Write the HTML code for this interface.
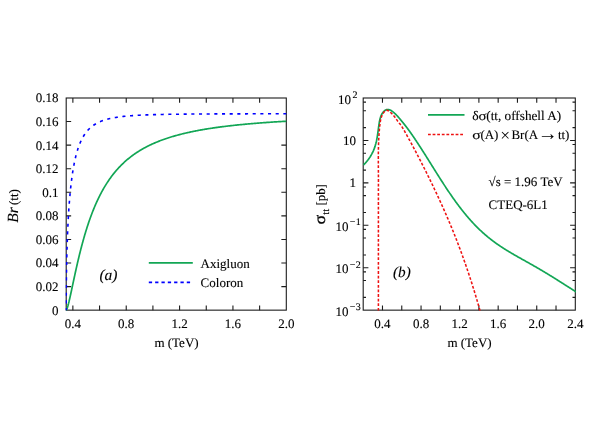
<!DOCTYPE html>
<html><head><meta charset="utf-8"><title>Chart</title>
<style>html,body{margin:0;padding:0;background:#fff;}body{width:616px;height:440px;position:relative;overflow:hidden;font-family:"Liberation Serif",serif;}</style></head>
<body>
<svg width="616" height="440" viewBox="0 0 616 440" style="position:absolute;left:0;top:0;will-change:transform" text-rendering="geometricPrecision">
<rect width="616" height="440" fill="#fff"/>
<defs><clipPath id="cl"><rect x="65.60" y="97.40" width="221.30" height="213.35"/></clipPath><clipPath id="cr"><rect x="362.60" y="97.40" width="213.30" height="213.35"/></clipPath></defs>
<g stroke="#1c1c1c" stroke-width="1.1" fill="none">
<rect x="66.20" y="98.00" width="220.10" height="212.15"/>
<rect x="363.20" y="98.00" width="212.10" height="212.15"/>
<path d="M72.87,310.15 v-4.70 M72.87,98.00 v4.70 M99.55,310.15 v-4.70 M99.55,98.00 v4.70 M126.23,310.15 v-4.70 M126.23,98.00 v4.70 M152.91,310.15 v-4.70 M152.91,98.00 v4.70 M179.58,310.15 v-4.70 M179.58,98.00 v4.70 M206.26,310.15 v-4.70 M206.26,98.00 v4.70 M232.94,310.15 v-4.70 M232.94,98.00 v4.70 M259.62,310.15 v-4.70 M259.62,98.00 v4.70 M66.20,286.58 h4.95 M286.30,286.58 h-4.95 M66.20,263.01 h4.95 M286.30,263.01 h-4.95 M66.20,239.43 h4.95 M286.30,239.43 h-4.95 M66.20,215.86 h4.95 M286.30,215.86 h-4.95 M66.20,192.29 h4.95 M286.30,192.29 h-4.95 M66.20,168.72 h4.95 M286.30,168.72 h-4.95 M66.20,145.14 h4.95 M286.30,145.14 h-4.95 M66.20,121.57 h4.95 M286.30,121.57 h-4.95 M382.48,310.15 v-4.70 M382.48,98.00 v4.70 M401.76,310.15 v-4.70 M401.76,98.00 v4.70 M421.05,310.15 v-4.70 M421.05,98.00 v4.70 M440.33,310.15 v-4.70 M440.33,98.00 v4.70 M459.61,310.15 v-4.70 M459.61,98.00 v4.70 M478.89,310.15 v-4.70 M478.89,98.00 v4.70 M498.17,310.15 v-4.70 M498.17,98.00 v4.70 M517.45,310.15 v-4.70 M517.45,98.00 v4.70 M536.74,310.15 v-4.70 M536.74,98.00 v4.70 M556.02,310.15 v-4.70 M556.02,98.00 v4.70 M363.20,297.38 h2.80 M575.30,297.38 h-2.80 M363.20,280.49 h2.80 M575.30,280.49 h-2.80 M363.20,271.83 h2.80 M575.30,271.83 h-2.80 M363.20,267.72 h5.20 M575.30,267.72 h-5.20 M363.20,254.95 h2.80 M575.30,254.95 h-2.80 M363.20,238.06 h2.80 M575.30,238.06 h-2.80 M363.20,229.40 h2.80 M575.30,229.40 h-2.80 M363.20,225.29 h5.20 M575.30,225.29 h-5.20 M363.20,212.52 h2.80 M575.30,212.52 h-2.80 M363.20,195.63 h2.80 M575.30,195.63 h-2.80 M363.20,186.97 h2.80 M575.30,186.97 h-2.80 M363.20,182.86 h5.20 M575.30,182.86 h-5.20 M363.20,170.09 h2.80 M575.30,170.09 h-2.80 M363.20,153.20 h2.80 M575.30,153.20 h-2.80 M363.20,144.54 h2.80 M575.30,144.54 h-2.80 M363.20,140.43 h5.20 M575.30,140.43 h-5.20 M363.20,127.66 h2.80 M575.30,127.66 h-2.80 M363.20,110.77 h2.80 M575.30,110.77 h-2.80 M363.20,102.11 h2.80 M575.30,102.11 h-2.80"/>
</g>
<g clip-path="url(#cl)" fill="none" stroke-linejoin="round">
<path d="M66.20,310.15 L66.20,310.15 L66.21,310.15 L66.21,310.15 L66.22,310.14 L66.23,310.14 L66.25,310.13 L66.27,310.11 L66.29,310.10 L66.31,310.07 L66.34,310.04 L66.37,310.01 L66.40,309.97 L66.43,309.92 L66.47,309.86 L66.51,309.80 L66.55,309.72 L66.60,309.64 L66.65,309.54 L66.70,309.44 L66.75,309.32 L66.81,309.19 L66.87,309.05 L66.93,308.90 L66.99,308.73 L67.06,308.55 L67.13,308.36 L67.20,308.15 L67.28,307.93 L67.36,307.69 L67.44,307.44 L67.52,307.17 L67.61,306.89 L67.70,306.59 L67.79,306.28 L67.89,305.94 L67.98,305.59 L68.08,305.23 L68.19,304.84 L68.29,304.44 L68.40,304.03 L68.51,303.59 L68.63,303.14 L68.74,302.67 L68.86,302.18 L68.99,301.68 L69.11,301.15 L69.24,300.61 L69.37,300.06 L69.50,299.48 L69.64,298.89 L69.78,298.28 L69.92,297.65 L70.06,297.01 L70.21,296.35 L70.36,295.67 L70.51,294.98 L70.67,294.27 L70.83,293.54 L70.99,292.80 L71.15,292.04 L71.32,291.27 L71.49,290.48 L71.66,289.67 L71.83,288.86 L72.01,288.03 L72.19,287.18 L72.38,286.32 L72.56,285.45 L72.75,284.56 L72.94,283.66 L73.13,282.75 L73.33,281.83 L73.53,280.90 L73.73,279.95 L73.94,279.00 L74.15,278.03 L74.36,277.05 L74.57,276.07 L74.79,275.07 L75.00,274.07 L75.23,273.06 L75.45,272.04 L75.68,271.01 L75.91,269.97 L76.14,268.93 L76.37,267.88 L76.61,266.82 L76.85,265.76 L77.10,264.69 L77.34,263.62 L77.59,262.55 L77.84,261.47 L78.10,260.38 L78.36,259.29 L78.62,258.20 L78.88,257.10 L79.14,256.01 L79.41,254.91 L79.68,253.81 L79.96,252.70 L80.23,251.60 L80.51,250.49 L80.79,249.39 L81.08,248.28 L81.37,247.18 L81.66,246.07 L81.95,244.97 L82.25,243.86 L82.54,242.76 L82.85,241.66 L83.15,240.56 L83.46,239.46 L83.77,238.36 L84.08,237.27 L84.39,236.18 L84.71,235.09 L85.03,234.01 L85.35,232.93 L85.68,231.85 L86.01,230.77 L86.34,229.70 L86.67,228.64 L87.01,227.58 L87.35,226.52 L87.69,225.47 L88.04,224.42 L88.39,223.38 L88.74,222.34 L89.09,221.31 L89.45,220.28 L89.81,219.26 L90.17,218.24 L90.53,217.23 L90.90,216.23 L91.27,215.23 L91.64,214.24 L92.02,213.25 L92.40,212.28 L92.78,211.30 L93.16,210.34 L93.55,209.38 L93.94,208.42 L94.33,207.48 L94.72,206.54 L95.12,205.61 L95.52,204.68 L95.93,203.76 L96.33,202.85 L96.74,201.94 L97.15,201.05 L97.57,200.16 L97.98,199.27 L98.40,198.40 L98.82,197.53 L99.25,196.66 L99.68,195.81 L100.11,194.96 L100.54,194.12 L100.98,193.29 L101.42,192.46 L101.86,191.64 L102.30,190.83 L102.75,190.03 L103.20,189.23 L103.65,188.44 L104.11,187.66 L104.56,186.89 L105.03,186.12 L105.49,185.36 L105.96,184.60 L106.42,183.86 L106.90,183.12 L107.37,182.39 L107.85,181.66 L108.33,180.94 L108.81,180.23 L109.30,179.53 L109.79,178.83 L110.28,178.14 L110.77,177.46 L111.27,176.78 L111.77,176.11 L112.27,175.45 L112.77,174.79 L113.28,174.14 L113.79,173.50 L114.30,172.87 L114.82,172.24 L115.34,171.61 L115.86,171.00 L116.38,170.39 L116.91,169.79 L117.44,169.19 L117.97,168.60 L118.51,168.01 L119.05,167.43 L119.59,166.86 L120.13,166.30 L120.68,165.74 L121.23,165.18 L121.78,164.64 L122.33,164.09 L122.89,163.56 L123.45,163.03 L124.01,162.50 L124.58,161.98 L125.14,161.47 L125.72,160.96 L126.29,160.46 L126.87,159.97 L127.44,159.48 L128.03,158.99 L128.61,158.51 L129.20,158.04 L129.79,157.57 L130.38,157.10 L130.98,156.64 L131.58,156.19 L132.18,155.74 L132.78,155.30 L133.39,154.86 L134.00,154.42 L134.61,153.99 L135.22,153.57 L135.84,153.15 L136.46,152.74 L137.08,152.33 L137.71,151.92 L138.34,151.52 L138.97,151.12 L139.60,150.73 L140.24,150.34 L140.88,149.96 L141.52,149.58 L142.17,149.21 L142.82,148.84 L143.47,148.47 L144.12,148.11 L144.78,147.75 L145.44,147.40 L146.10,147.05 L146.76,146.70 L147.43,146.36 L148.10,146.02 L148.77,145.69 L149.45,145.36 L150.13,145.03 L150.81,144.71 L151.49,144.39 L152.18,144.07 L152.87,143.76 L153.56,143.45 L154.25,143.15 L154.95,142.85 L155.65,142.55 L156.35,142.25 L157.06,141.96 L157.77,141.68 L158.48,141.39 L159.19,141.11 L159.91,140.83 L160.63,140.56 L161.35,140.28 L162.08,140.02 L162.80,139.75 L163.53,139.49 L164.27,139.23 L165.00,138.97 L165.74,138.72 L166.48,138.47 L167.23,138.22 L167.97,137.97 L168.72,137.73 L169.48,137.49 L170.23,137.25 L170.99,137.02 L171.75,136.79 L172.51,136.56 L173.28,136.33 L174.05,136.11 L174.82,135.88 L175.60,135.67 L176.37,135.45 L177.15,135.23 L177.94,135.02 L178.72,134.81 L179.51,134.61 L180.30,134.40 L181.09,134.20 L181.89,134.00 L182.69,133.80 L183.49,133.61 L184.30,133.41 L185.10,133.22 L185.91,133.03 L186.73,132.84 L187.54,132.66 L188.36,132.48 L189.18,132.30 L190.01,132.12 L190.83,131.94 L191.66,131.76 L192.49,131.59 L193.33,131.42 L194.17,131.25 L195.01,131.08 L195.85,130.92 L196.70,130.75 L197.55,130.59 L198.40,130.43 L199.25,130.27 L200.11,130.12 L200.97,129.96 L201.83,129.81 L202.70,129.66 L203.56,129.51 L204.44,129.36 L205.31,129.21 L206.18,129.07 L207.06,128.92 L207.95,128.78 L208.83,128.64 L209.72,128.50 L210.61,128.37 L211.50,128.23 L212.40,128.10 L213.29,127.96 L214.20,127.83 L215.10,127.70 L216.01,127.57 L216.91,127.45 L217.83,127.32 L218.74,127.19 L219.66,127.07 L220.58,126.95 L221.50,126.83 L222.43,126.71 L223.36,126.59 L224.29,126.47 L225.22,126.36 L226.16,126.25 L227.10,126.13 L228.04,126.02 L228.99,125.91 L229.93,125.80 L230.88,125.69 L231.84,125.58 L232.79,125.48 L233.75,125.37 L234.71,125.27 L235.68,125.17 L236.65,125.06 L237.62,124.96 L238.59,124.86 L239.56,124.77 L240.54,124.67 L241.52,124.57 L242.51,124.48 L243.49,124.38 L244.48,124.29 L245.47,124.20 L246.47,124.10 L247.46,124.01 L248.46,123.92 L249.47,123.83 L250.47,123.75 L251.48,123.66 L252.49,123.57 L253.51,123.49 L254.52,123.40 L255.54,123.32 L256.56,123.24 L257.59,123.16 L258.62,123.08 L259.65,123.00 L260.68,122.92 L261.72,122.84 L262.75,122.76 L263.80,122.68 L264.84,122.61 L265.89,122.53 L266.94,122.46 L267.99,122.38 L269.04,122.31 L270.10,122.24 L271.16,122.17 L272.23,122.09 L273.29,122.02 L274.36,121.95 L275.43,121.89 L276.51,121.82 L277.58,121.75 L278.66,121.68 L279.75,121.62 L280.83,121.55 L281.92,121.49 L283.01,121.42 L284.10,121.36 L285.20,121.30 L286.30,121.23" stroke="#12a655" stroke-width="1.7"/>
<path d="M66.20,310.15 L66.20,307.44 L66.21,304.75 L66.21,302.07 L66.22,299.40 L66.23,296.75 L66.25,294.11 L66.27,291.49 L66.29,288.88 L66.31,286.30 L66.34,283.73 L66.37,281.17 L66.40,278.64 L66.43,276.12 L66.47,273.63 L66.51,271.15 L66.55,268.69 L66.60,266.25 L66.65,263.84 L66.70,261.44 L66.75,259.07 L66.81,256.72 L66.87,254.39 L66.93,252.08 L66.99,249.79 L67.06,247.53 L67.13,245.29 L67.20,243.07 L67.28,240.88 L67.36,238.71 L67.44,236.56 L67.52,234.44 L67.61,232.34 L67.70,230.26 L67.79,228.21 L67.89,226.19 L67.98,224.19 L68.08,222.21 L68.19,220.26 L68.29,218.33 L68.40,216.43 L68.51,214.55 L68.63,212.69 L68.74,210.87 L68.86,209.06 L68.99,207.28 L69.11,205.53 L69.24,203.80 L69.37,202.09 L69.50,200.41 L69.64,198.75 L69.78,197.12 L69.92,195.51 L70.06,193.93 L70.21,192.37 L70.36,190.83 L70.51,189.32 L70.67,187.83 L70.83,186.36 L70.99,184.92 L71.15,183.50 L71.32,182.10 L71.49,180.73 L71.66,179.38 L71.83,178.05 L72.01,176.75 L72.19,175.46 L72.38,174.20 L72.56,172.96 L72.75,171.74 L72.94,170.54 L73.13,169.36 L73.33,168.21 L73.53,167.07 L73.73,165.95 L73.94,164.86 L74.15,163.78 L74.36,162.73 L74.57,161.69 L74.79,160.67 L75.00,159.67 L75.23,158.69 L75.45,157.73 L75.68,156.79 L75.91,155.86 L76.14,154.95 L76.37,154.06 L76.61,153.19 L76.85,152.34 L77.10,151.50 L77.34,150.67 L77.59,149.87 L77.84,149.07 L78.10,148.30 L78.36,147.54 L78.62,146.80 L78.88,146.07 L79.14,145.35 L79.41,144.65 L79.68,143.97 L79.96,143.29 L80.23,142.64 L80.51,141.99 L80.79,141.36 L81.08,140.74 L81.37,140.14 L81.66,139.55 L81.95,138.97 L82.25,138.40 L82.54,137.84 L82.85,137.30 L83.15,136.77 L83.46,136.25 L83.77,135.74 L84.08,135.24 L84.39,134.75 L84.71,134.28 L85.03,133.81 L85.35,133.35 L85.68,132.91 L86.01,132.47 L86.34,132.04 L86.67,131.62 L87.01,131.21 L87.35,130.82 L87.69,130.42 L88.04,130.04 L88.39,129.67 L88.74,129.30 L89.09,128.95 L89.45,128.60 L89.81,128.26 L90.17,127.92 L90.53,127.60 L90.90,127.28 L91.27,126.97 L91.64,126.66 L92.02,126.36 L92.40,126.07 L92.78,125.79 L93.16,125.51 L93.55,125.24 L93.94,124.97 L94.33,124.71 L94.72,124.46 L95.12,124.21 L95.52,123.97 L95.93,123.74 L96.33,123.50 L96.74,123.28 L97.15,123.06 L97.57,122.84 L97.98,122.63 L98.40,122.43 L98.82,122.23 L99.25,122.03 L99.68,121.84 L100.11,121.65 L100.54,121.47 L100.98,121.29 L101.42,121.12 L101.86,120.95 L102.30,120.78 L102.75,120.62 L103.20,120.46 L103.65,120.31 L104.11,120.16 L104.56,120.01 L105.03,119.86 L105.49,119.72 L105.96,119.59 L106.42,119.45 L106.90,119.32 L107.37,119.19 L107.85,119.07 L108.33,118.94 L108.81,118.82 L109.30,118.71 L109.79,118.59 L110.28,118.48 L110.77,118.37 L111.27,118.27 L111.77,118.17 L112.27,118.06 L112.77,117.97 L113.28,117.87 L113.79,117.77 L114.30,117.68 L114.82,117.59 L115.34,117.51 L115.86,117.42 L116.38,117.34 L116.91,117.25 L117.44,117.17 L117.97,117.10 L118.51,117.02 L119.05,116.95 L119.59,116.87 L120.13,116.80 L120.68,116.73 L121.23,116.67 L121.78,116.60 L122.33,116.54 L122.89,116.47 L123.45,116.41 L124.01,116.35 L124.58,116.29 L125.14,116.24 L125.72,116.18 L126.29,116.13 L126.87,116.07 L127.44,116.02 L128.03,115.97 L128.61,115.92 L129.20,115.87 L129.79,115.82 L130.38,115.78 L130.98,115.73 L131.58,115.69 L132.18,115.64 L132.78,115.60 L133.39,115.56 L134.00,115.52 L134.61,115.48 L135.22,115.44 L135.84,115.40 L136.46,115.37 L137.08,115.33 L137.71,115.30 L138.34,115.26 L138.97,115.23 L139.60,115.20 L140.24,115.16 L140.88,115.13 L141.52,115.10 L142.17,115.07 L142.82,115.04 L143.47,115.02 L144.12,114.99 L144.78,114.96 L145.44,114.93 L146.10,114.91 L146.76,114.88 L147.43,114.86 L148.10,114.83 L148.77,114.81 L149.45,114.79 L150.13,114.76 L150.81,114.74 L151.49,114.72 L152.18,114.70 L152.87,114.68 L153.56,114.66 L154.25,114.64 L154.95,114.62 L155.65,114.60 L156.35,114.58 L157.06,114.56 L157.77,114.55 L158.48,114.53 L159.19,114.51 L159.91,114.50 L160.63,114.48 L161.35,114.46 L162.08,114.45 L162.80,114.43 L163.53,114.42 L164.27,114.40 L165.00,114.39 L165.74,114.38 L166.48,114.36 L167.23,114.35 L167.97,114.34 L168.72,114.32 L169.48,114.31 L170.23,114.30 L170.99,114.29 L171.75,114.28 L172.51,114.26 L173.28,114.25 L174.05,114.24 L174.82,114.23 L175.60,114.22 L176.37,114.21 L177.15,114.20 L177.94,114.19 L178.72,114.18 L179.51,114.17 L180.30,114.16 L181.09,114.16 L181.89,114.15 L182.69,114.14 L183.49,114.13 L184.30,114.12 L185.10,114.11 L185.91,114.11 L186.73,114.10 L187.54,114.09 L188.36,114.08 L189.18,114.08 L190.01,114.07 L190.83,114.06 L191.66,114.06 L192.49,114.05 L193.33,114.04 L194.17,114.04 L195.01,114.03 L195.85,114.02 L196.70,114.02 L197.55,114.01 L198.40,114.01 L199.25,114.00 L200.11,114.00 L200.97,113.99 L201.83,113.98 L202.70,113.98 L203.56,113.97 L204.44,113.97 L205.31,113.96 L206.18,113.96 L207.06,113.96 L207.95,113.95 L208.83,113.95 L209.72,113.94 L210.61,113.94 L211.50,113.93 L212.40,113.93 L213.29,113.93 L214.20,113.92 L215.10,113.92 L216.01,113.91 L216.91,113.91 L217.83,113.91 L218.74,113.90 L219.66,113.90 L220.58,113.90 L221.50,113.89 L222.43,113.89 L223.36,113.89 L224.29,113.88 L225.22,113.88 L226.16,113.88 L227.10,113.87 L228.04,113.87 L228.99,113.87 L229.93,113.87 L230.88,113.86 L231.84,113.86 L232.79,113.86 L233.75,113.86 L234.71,113.85 L235.68,113.85 L236.65,113.85 L237.62,113.85 L238.59,113.84 L239.56,113.84 L240.54,113.84 L241.52,113.84 L242.51,113.83 L243.49,113.83 L244.48,113.83 L245.47,113.83 L246.47,113.83 L247.46,113.82 L248.46,113.82 L249.47,113.82 L250.47,113.82 L251.48,113.82 L252.49,113.82 L253.51,113.81 L254.52,113.81 L255.54,113.81 L256.56,113.81 L257.59,113.81 L258.62,113.81 L259.65,113.80 L260.68,113.80 L261.72,113.80 L262.75,113.80 L263.80,113.80 L264.84,113.80 L265.89,113.79 L266.94,113.79 L267.99,113.79 L269.04,113.79 L270.10,113.79 L271.16,113.79 L272.23,113.79 L273.29,113.79 L274.36,113.78 L275.43,113.78 L276.51,113.78 L277.58,113.78 L278.66,113.78 L279.75,113.78 L280.83,113.78 L281.92,113.78 L283.01,113.78 L284.10,113.77 L285.20,113.77 L286.30,113.77" stroke="#0000ff" stroke-width="1.6" stroke-dasharray="3.1,4.568" stroke-dashoffset="0.95"/>
</g>
<g clip-path="url(#cr)" fill="none" stroke-linejoin="round">
<path d="M363.43,164.98 L363.84,164.58 L364.24,164.18 L364.64,163.78 L365.03,163.38 L365.41,162.97 L365.78,162.56 L366.15,162.15 L366.51,161.73 L366.87,161.31 L367.22,160.88 L367.56,160.46 L367.90,160.03 L368.23,159.59 L368.55,159.16 L368.87,158.72 L369.18,158.28 L369.48,157.83 L369.78,157.38 L370.08,156.93 L370.36,156.48 L370.64,156.02 L370.92,155.57 L371.19,155.10 L371.45,154.64 L371.71,154.17 L371.96,153.71 L372.20,153.23 L372.44,152.76 L372.67,152.28 L372.90,151.80 L373.12,151.32 L373.34,150.84 L373.55,150.35 L373.75,149.87 L373.95,149.37 L374.14,148.88 L374.33,148.39 L374.51,147.89 L374.69,147.39 L374.86,146.89 L375.03,146.39 L375.19,145.88 L375.34,145.37 L375.49,144.87 L375.64,144.36 L375.77,143.84 L375.91,143.33 L376.04,142.81 L376.16,142.29 L376.29,141.77 L376.40,141.25 L376.52,140.73 L376.62,140.21 L376.73,139.68 L376.83,139.15 L376.93,138.62 L377.03,138.09 L377.12,137.56 L377.21,137.03 L377.30,136.49 L377.39,135.96 L377.47,135.42 L377.55,134.88 L377.63,134.34 L377.71,133.80 L377.79,133.26 L377.86,132.72 L377.94,132.17 L378.01,131.63 L378.09,131.08 L378.16,130.53 L378.23,129.99 L378.30,129.44 L378.38,128.89 L378.45,128.34 L378.52,127.79 L378.60,127.23 L378.67,126.68 L378.75,126.13 L378.83,125.57 L378.90,125.02 L378.98,124.46 L379.07,123.91 L379.15,123.35 L379.24,122.80 L379.33,122.25 L379.43,121.70 L379.53,121.15 L379.64,120.60 L379.76,120.06 L379.88,119.52 L380.01,118.99 L380.15,118.46 L380.30,117.93 L380.46,117.42 L380.63,116.91 L380.82,116.40 L381.01,115.90 L381.22,115.41 L381.44,114.93 L381.68,114.46 L381.93,114.00 L382.20,113.55 L382.48,113.10 L382.78,112.67 L383.10,112.25 L383.43,111.85 L383.78,111.47 L384.14,111.12 L384.52,110.79 L384.90,110.49 L385.30,110.22 L385.71,109.99 L386.13,109.80 L386.56,109.65 L386.99,109.54 L387.43,109.49 L387.88,109.48 L388.34,109.53 L388.79,109.61 L389.25,109.74 L389.71,109.91 L390.18,110.11 L390.64,110.34 L391.10,110.60 L391.56,110.88 L392.02,111.19 L392.47,111.51 L392.92,111.85 L393.36,112.21 L393.79,112.57 L394.22,112.94 L394.63,113.31 L395.04,113.69 L395.44,114.07 L395.84,114.46 L396.22,114.85 L396.60,115.24 L396.98,115.64 L397.35,116.03 L397.72,116.43 L398.08,116.84 L398.44,117.24 L398.79,117.65 L399.15,118.05 L399.50,118.46 L399.85,118.87 L400.20,119.28 L400.55,119.69 L400.89,120.10 L401.24,120.52 L401.58,120.93 L401.92,121.35 L402.26,121.76 L402.60,122.18 L402.94,122.59 L403.28,123.01 L403.61,123.43 L403.95,123.85 L404.28,124.27 L404.61,124.69 L404.94,125.12 L405.27,125.54 L405.60,125.96 L405.93,126.39 L406.25,126.81 L406.58,127.24 L406.90,127.67 L407.22,128.10 L407.54,128.53 L407.86,128.95 L408.18,129.38 L408.50,129.82 L408.81,130.25 L409.13,130.68 L409.45,131.11 L409.76,131.55 L410.07,131.98 L410.38,132.42 L410.69,132.85 L411.00,133.29 L411.31,133.72 L411.62,134.16 L411.93,134.60 L412.23,135.04 L412.54,135.48 L412.85,135.93 L413.15,136.37 L413.45,136.81 L413.75,137.25 L414.06,137.70 L414.36,138.14 L414.66,138.59 L414.96,139.03 L415.25,139.48 L415.55,139.92 L415.85,140.37 L416.15,140.82 L416.44,141.26 L416.74,141.71 L417.03,142.16 L417.33,142.60 L417.62,143.05 L417.91,143.50 L418.21,143.95 L418.50,144.39 L418.79,144.84 L419.08,145.29 L419.37,145.74 L419.66,146.18 L419.95,146.63 L420.24,147.08 L420.53,147.53 L420.82,147.98 L421.11,148.42 L421.39,148.87 L421.68,149.32 L421.97,149.77 L422.25,150.22 L422.54,150.67 L422.83,151.11 L423.11,151.56 L423.40,152.01 L423.68,152.46 L423.97,152.91 L424.25,153.35 L424.54,153.80 L424.82,154.25 L425.00,154.53 L425.50,155.32 L426.00,156.11 L426.50,156.91 L427.00,157.70 L427.50,158.50 L428.00,159.29 L428.50,160.09 L429.00,160.89 L429.50,161.69 L430.00,162.49 L430.50,163.29 L431.00,164.09 L431.50,164.89 L432.00,165.69 L432.50,166.49 L433.00,167.29 L433.50,168.09 L434.00,168.89 L434.50,169.69 L435.00,170.49 L435.50,171.28 L436.00,172.08 L436.50,172.87 L437.00,173.67 L437.50,174.46 L438.00,175.25 L438.50,176.04 L439.00,176.83 L439.50,177.62 L440.00,178.40 L440.50,179.18 L441.00,179.97 L441.50,180.75 L442.00,181.52 L442.50,182.30 L443.00,183.07 L443.50,183.84 L444.00,184.61 L444.50,185.38 L445.00,186.14 L445.50,186.90 L446.00,187.66 L446.50,188.41 L447.00,189.16 L447.50,189.91 L448.00,190.66 L448.50,191.40 L449.00,192.14 L449.50,192.88 L450.00,193.61 L450.50,194.34 L451.00,195.07 L451.50,195.79 L452.00,196.51 L452.50,197.22 L453.00,197.94 L453.50,198.64 L454.00,199.35 L454.50,200.05 L455.00,200.75 L455.50,201.44 L456.00,202.13 L456.50,202.81 L457.00,203.49 L457.50,204.17 L458.00,204.84 L458.50,205.51 L459.00,206.18 L459.50,206.83 L460.00,207.49 L460.50,208.14 L461.00,208.79 L461.50,209.43 L462.00,210.07 L462.50,210.70 L463.00,211.33 L463.50,211.96 L464.00,212.58 L464.50,213.19 L465.00,213.80 L465.50,214.41 L466.00,215.01 L466.50,215.61 L467.00,216.20 L467.50,216.79 L468.00,217.38 L468.50,217.96 L469.00,218.53 L469.50,219.10 L470.00,219.67 L470.50,220.23 L471.00,220.79 L471.50,221.34 L472.00,221.89 L472.50,222.43 L473.00,222.97 L473.50,223.50 L474.00,224.03 L474.50,224.55 L475.00,225.07 L475.50,225.59 L476.00,226.10 L476.50,226.61 L477.00,227.11 L477.50,227.61 L478.00,228.10 L478.50,228.59 L479.00,229.08 L479.50,229.56 L480.00,230.03 L480.50,230.51 L481.00,230.97 L481.50,231.44 L482.00,231.90 L482.50,232.35 L483.00,232.80 L483.50,233.25 L484.00,233.69 L484.50,234.13 L485.00,234.57 L485.50,235.00 L486.00,235.43 L486.50,235.85 L487.00,236.27 L487.50,236.68 L488.00,237.10 L488.50,237.50 L489.00,237.91 L489.50,238.31 L490.00,238.71 L490.50,239.10 L491.00,239.49 L491.50,239.88 L492.00,240.26 L492.50,240.65 L493.00,241.02 L493.50,241.40 L494.00,241.77 L494.50,242.14 L495.00,242.50 L495.50,242.86 L496.00,243.22 L496.50,243.58 L497.00,243.93 L497.50,244.28 L498.00,244.63 L498.50,244.97 L499.00,245.32 L499.50,245.66 L500.00,245.99 L500.50,246.33 L501.00,246.66 L501.50,246.99 L502.00,247.32 L502.50,247.64 L503.00,247.97 L503.50,248.29 L504.00,248.61 L504.50,248.92 L505.00,249.24 L505.50,249.55 L506.00,249.86 L506.50,250.17 L507.00,250.48 L507.50,250.79 L508.00,251.09 L508.50,251.39 L509.00,251.70 L509.50,252.00 L510.00,252.29 L510.50,252.59 L511.00,252.89 L511.50,253.18 L512.00,253.48 L512.50,253.77 L513.00,254.06 L513.50,254.35 L514.00,254.64 L514.50,254.93 L515.00,255.22 L515.50,255.50 L516.00,255.79 L516.50,256.07 L517.00,256.36 L517.50,256.64 L518.00,256.92 L518.50,257.21 L519.00,257.49 L519.50,257.77 L520.00,258.05 L520.50,258.33 L521.00,258.61 L521.50,258.89 L522.00,259.17 L522.50,259.45 L523.00,259.73 L523.50,260.01 L524.00,260.29 L524.50,260.57 L525.00,260.85 L525.50,261.13 L526.00,261.41 L526.50,261.69 L527.00,261.97 L527.50,262.25 L528.00,262.53 L528.50,262.81 L529.00,263.10 L529.50,263.38 L530.00,263.66 L530.50,263.94 L531.00,264.22 L531.50,264.51 L532.00,264.79 L532.50,265.07 L533.00,265.36 L533.50,265.64 L534.00,265.93 L534.50,266.21 L535.00,266.50 L535.50,266.79 L536.00,267.08 L536.50,267.36 L537.00,267.65 L537.50,267.94 L538.00,268.23 L538.50,268.52 L539.00,268.82 L539.50,269.11 L540.00,269.40 L540.50,269.69 L541.00,269.99 L541.50,270.28 L542.00,270.58 L542.50,270.88 L543.00,271.17 L543.50,271.47 L544.00,271.77 L544.50,272.07 L545.00,272.37 L545.50,272.67 L546.00,272.97 L546.50,273.28 L547.00,273.58 L547.50,273.88 L548.00,274.19 L548.50,274.49 L549.00,274.80 L549.50,275.11 L550.00,275.41 L550.50,275.72 L551.00,276.03 L551.50,276.34 L552.00,276.65 L552.50,276.96 L553.00,277.27 L553.50,277.58 L554.00,277.90 L554.50,278.21 L555.00,278.52 L555.50,278.84 L556.00,279.15 L556.50,279.46 L557.00,279.78 L557.50,280.09 L558.00,280.41 L558.50,280.73 L559.00,281.04 L559.50,281.36 L560.00,281.68 L560.50,281.99 L561.00,282.31 L561.50,282.63 L562.00,282.95 L562.50,283.26 L563.00,283.58 L563.50,283.90 L564.00,284.22 L564.50,284.53 L565.00,284.85 L565.50,285.17 L566.00,285.49 L566.50,285.81 L567.00,286.12 L567.50,286.44 L568.00,286.76 L568.50,287.07 L569.00,287.39 L569.50,287.71 L570.00,288.02 L570.50,288.34 L571.00,288.65 L571.50,288.97 L572.00,289.28 L572.50,289.60 L573.00,289.91 L573.50,290.22 L574.00,290.54 L574.50,290.85 L575.00,291.16 L575.50,291.47 L576.00,291.78 L576.50,292.09 L577.00,292.40 L577.50,292.71 L578.00,293.02 L578.50,293.32 L579.00,293.63 L579.50,293.93 L580.00,294.24" stroke="#12a655" stroke-width="1.7"/>
<path d="M378.4,311 L378.4,190 L378.39,190.02 L378.40,189.39 L378.40,188.76 L378.41,188.13 L378.41,187.50 L378.42,186.87 L378.42,186.24 L378.43,185.61 L378.43,184.98 L378.43,184.35 L378.43,183.72 L378.44,183.09 L378.44,182.46 L378.44,181.83 L378.44,181.20 L378.44,180.57 L378.43,179.94 L378.43,179.31 L378.43,178.68 L378.43,178.06 L378.43,177.43 L378.42,176.80 L378.42,176.17 L378.42,175.55 L378.41,174.92 L378.41,174.29 L378.40,173.66 L378.40,173.04 L378.40,172.41 L378.39,171.78 L378.39,171.16 L378.38,170.53 L378.38,169.90 L378.38,169.28 L378.37,168.65 L378.37,168.03 L378.36,167.40 L378.36,166.77 L378.35,166.15 L378.35,165.52 L378.35,164.90 L378.34,164.27 L378.34,163.64 L378.34,163.02 L378.34,162.39 L378.33,161.77 L378.33,161.14 L378.33,160.52 L378.33,159.89 L378.33,159.26 L378.33,158.64 L378.33,158.01 L378.33,157.39 L378.33,156.76 L378.34,156.14 L378.34,155.51 L378.34,154.89 L378.35,154.26 L378.35,153.63 L378.36,153.01 L378.36,152.38 L378.37,151.76 L378.38,151.13 L378.39,150.51 L378.40,149.88 L378.41,149.25 L378.42,148.63 L378.43,148.00 L378.45,147.38 L378.46,146.75 L378.48,146.12 L378.50,145.50 L378.51,144.87 L378.53,144.24 L378.55,143.62 L378.58,142.99 L378.60,142.36 L378.62,141.74 L378.65,141.11 L378.68,140.48 L378.71,139.85 L378.74,139.23 L378.77,138.60 L378.80,137.97 L378.83,137.34 L378.87,136.71 L378.91,136.09 L378.95,135.46 L378.99,134.83 L379.03,134.20 L379.07,133.57 L379.12,132.94 L379.17,132.31 L379.22,131.68 L379.27,131.05 L379.32,130.42 L379.38,129.79 L379.43,129.16 L379.49,128.53 L379.55,127.90 L379.62,127.27 L379.68,126.64 L379.75,126.01 L379.82,125.37 L379.89,124.74 L379.96,124.11 L380.04,123.48 L380.12,122.85 L380.21,122.22 L380.31,121.59 L380.42,120.97 L380.53,120.35 L380.66,119.73 L380.79,119.12 L380.95,118.51 L381.11,117.91 L381.30,117.31 L381.50,116.72 L381.72,116.14 L381.95,115.57 L382.21,115.00 L382.50,114.44 L382.80,113.90 L383.13,113.36 L383.49,112.83 L383.87,112.32 L384.28,111.82 L384.71,111.37 L385.16,110.98 L385.64,110.66 L386.12,110.43 L386.62,110.32 L387.13,110.33 L387.64,110.46 L388.16,110.68 L388.68,110.98 L389.20,111.33 L389.71,111.73 L390.22,112.15 L390.72,112.59 L391.21,113.05 L391.69,113.52 L392.17,114.00 L392.63,114.50 L393.08,115.00 L393.53,115.52 L393.96,116.04 L394.38,116.56 L394.79,117.08 L395.19,117.60 L395.57,118.12 L395.94,118.64 L396.31,119.15 L396.66,119.65 L397.01,120.14 L397.34,120.62 L397.67,121.09 L398.00,121.54 L398.31,121.97 L398.63,122.39 L398.94,122.79 L399.25,123.16 L399.56,123.52 L399.86,123.87 L400.17,124.24 L400.47,124.62 L400.78,125.02 L401.09,125.45 L401.39,125.89 L401.70,126.35 L402.00,126.82 L402.30,127.31 L402.61,127.80 L402.91,128.31 L403.22,128.83 L403.52,129.35 L403.82,129.88 L404.13,130.41 L404.43,130.94 L404.73,131.47 L405.03,132.01 L405.34,132.55 L405.64,133.09 L405.94,133.62 L406.24,134.16 L406.54,134.70 L406.84,135.25 L407.14,135.79 L407.44,136.33 L407.74,136.87 L408.04,137.41 L408.34,137.96 L408.64,138.50 L408.94,139.05 L409.24,139.59 L409.53,140.14 L409.83,140.68 L410.13,141.23 L410.43,141.78 L410.72,142.32 L411.02,142.87 L411.32,143.42 L411.61,143.96 L411.91,144.51 L412.20,145.06 L412.50,145.61 L412.79,146.16 L413.09,146.71 L413.38,147.26 L413.68,147.81 L413.97,148.36 L414.26,148.91 L414.56,149.46 L414.85,150.01 L415.14,150.56 L415.43,151.11 L415.73,151.66 L416.02,152.22 L416.31,152.77 L416.60,153.32 L416.89,153.88 L417.18,154.43 L417.47,154.98 L417.76,155.54 L418.00,156.00 L418.40,156.77 L418.80,157.54 L419.20,158.32 L419.60,159.09 L420.00,159.87 L420.40,160.65 L420.80,161.43 L421.20,162.21 L421.60,162.99 L422.00,163.78 L422.40,164.57 L422.80,165.35 L423.20,166.14 L423.60,166.94 L424.00,167.73 L424.40,168.52 L424.80,169.32 L425.20,170.12 L425.60,170.92 L426.00,171.72 L426.40,172.52 L426.80,173.33 L427.20,174.13 L427.60,174.94 L428.00,175.75 L428.40,176.56 L428.80,177.38 L429.20,178.19 L429.60,179.01 L430.00,179.83 L430.40,180.65 L430.80,181.47 L431.20,182.29 L431.60,183.12 L432.00,183.95 L432.40,184.78 L432.80,185.61 L433.20,186.44 L433.60,187.28 L434.00,188.12 L434.40,188.96 L434.80,189.80 L435.20,190.64 L435.60,191.49 L436.00,192.34 L436.40,193.19 L436.80,194.04 L437.20,194.90 L437.60,195.75 L438.00,196.62 L438.40,197.48 L438.80,198.34 L439.20,199.21 L439.60,200.08 L440.00,200.95 L440.40,201.83 L440.80,202.71 L441.20,203.59 L441.60,204.47 L442.00,205.36 L442.40,206.25 L442.80,207.14 L443.20,208.04 L443.60,208.93 L444.00,209.84 L444.40,210.74 L444.80,211.65 L445.20,212.56 L445.60,213.47 L446.00,214.39 L446.40,215.31 L446.80,216.23 L447.20,217.16 L447.60,218.09 L448.00,219.03 L448.40,219.97 L448.80,220.91 L449.20,221.85 L449.60,222.80 L450.00,223.76 L450.40,224.71 L450.80,225.68 L451.20,226.64 L451.60,227.61 L452.00,228.58 L452.40,229.56 L452.80,230.54 L453.20,231.53 L453.60,232.52 L454.00,233.51 L454.40,234.51 L454.80,235.52 L455.20,236.53 L455.60,237.54 L456.00,238.56 L456.40,239.58 L456.80,240.61 L457.20,241.64 L457.60,242.68 L458.00,243.72 L458.40,244.77 L458.80,245.82 L459.20,246.88 L459.60,247.94 L460.00,249.01 L460.40,250.09 L460.80,251.16 L461.20,252.25 L461.60,253.34 L462.00,254.44 L462.40,255.54 L462.80,256.65 L463.20,257.76 L463.60,258.88 L464.00,260.01 L464.40,261.14 L464.80,262.27 L465.20,263.42 L465.60,264.57 L466.00,265.72 L466.40,266.89 L466.80,268.06 L467.20,269.23 L467.60,270.41 L468.00,271.60 L468.40,272.80 L468.80,274.00 L469.20,275.21 L469.60,276.42 L470.00,277.65 L470.40,278.88 L470.80,280.11 L471.20,281.36 L471.60,282.61 L472.00,283.86 L472.40,285.13 L472.80,286.40 L473.20,287.68 L473.60,288.97 L474.00,290.26 L474.40,291.57 L474.80,292.88 L475.20,294.20 L475.60,295.52 L476.00,296.85 L476.40,298.20 L476.80,299.54 L477.20,300.90 L477.60,302.27 L478.00,303.64 L478.40,305.02 L478.80,306.41 L479.20,307.81 L479.60,309.21 L480.00,310.63 L480.40,312.05 L480.80,313.48 L481.20,314.92" stroke="#ee1111" stroke-width="1.55" stroke-dasharray="2.8,1.8" stroke-dashoffset="4.28"/>
</g>
<path d="M148.8,262.9 H192.8" stroke="#12a655" stroke-width="1.7"/>
<path d="M148.8,282.4 H191" stroke="#0000ff" stroke-width="1.6" stroke-dasharray="3.3,3.03"/>
<path d="M428,114.8 H464.5" stroke="#12a655" stroke-width="1.7"/>
<path d="M428,134.4 H464" stroke="#ee1111" stroke-width="1.55" stroke-dasharray="2.8,1.8"/>
<g font-family="'Liberation Serif', serif" font-size="13" fill="#000" stroke="#000" stroke-width="0.12" stroke-linejoin="round">
<text x="58.5" y="314.55" text-anchor="end">0</text>
<text x="58.5" y="290.98" text-anchor="end">0.02</text>
<text x="58.5" y="267.41" text-anchor="end">0.04</text>
<text x="58.5" y="243.83" text-anchor="end">0.06</text>
<text x="58.5" y="220.26" text-anchor="end">0.08</text>
<text x="58.5" y="196.69" text-anchor="end">0.1</text>
<text x="58.5" y="173.12" text-anchor="end">0.12</text>
<text x="58.5" y="149.54" text-anchor="end">0.14</text>
<text x="58.5" y="125.97" text-anchor="end">0.16</text>
<text x="58.5" y="102.40" text-anchor="end">0.18</text>
<text x="72.87" y="327.7" text-anchor="middle">0.4</text>
<text x="126.23" y="327.7" text-anchor="middle">0.8</text>
<text x="179.58" y="327.7" text-anchor="middle">1.2</text>
<text x="232.94" y="327.7" text-anchor="middle">1.6</text>
<text x="286.30" y="327.7" text-anchor="middle">2.0</text>
<text x="382.48" y="327.7" text-anchor="middle">0.4</text>
<text x="421.05" y="327.7" text-anchor="middle">0.8</text>
<text x="459.61" y="327.7" text-anchor="middle">1.2</text>
<text x="498.17" y="327.7" text-anchor="middle">1.6</text>
<text x="536.74" y="327.7" text-anchor="middle">2.0</text>
<text x="575.30" y="327.7" text-anchor="middle">2.4</text>
<text x="176.5" y="347.2" text-anchor="middle">m (TeV)</text>
<text x="469.5" y="347.2" text-anchor="middle">m (TeV)</text>
<text x="200.6" y="267.5">Axigluon</text>
<text x="200.6" y="287">Coloron</text>
<text x="99.4" y="280.3" font-size="15.5" font-style="italic">(a)</text>
<text x="393" y="277" font-size="15.2" font-style="italic">(b)</text>
<text transform="translate(17.7,222.8) rotate(-90)" font-size="15.5" font-style="italic">Br</text>
<text transform="translate(17.7,205.0) rotate(-90)" font-size="13">(tt)</text>
<text transform="translate(325.0,224.4) rotate(-90) scale(1.12,1)" font-size="16" stroke="#000" stroke-width="0.3">σ</text>
<text transform="translate(329.1,214.7) rotate(-90)" font-size="10.5">tt</text>
<text transform="translate(324.9,205.5) rotate(-90)" font-size="12.8">[pb]</text>
<text x="338.0" y="103.60">10<tspan font-size="10" dy="-5.9" dx="1.5">2</tspan></text>
<text x="356" y="144.93" text-anchor="end">10</text>
<text x="356" y="187.36" text-anchor="end">1</text>
<text x="335.6" y="230.89">10<tspan font-size="10" dy="-5.5" dx="1.2" letter-spacing="0.35">−1</tspan></text>
<text x="335.6" y="273.32">10<tspan font-size="10" dy="-5.5" dx="1.2" letter-spacing="0.35">−2</tspan></text>
<text x="335.6" y="315.75">10<tspan font-size="10" dy="-5.5" dx="1.2" letter-spacing="0.35">−3</tspan></text>
<text transform="translate(472.20,119.60) scale(1.05,1)" >δ</text>
<text transform="translate(478.60,119.60) scale(1.15,1)" >σ</text>
<text x="486.3" y="119.6" font-size="13.2">(tt, offshell A)</text>
<text transform="translate(472.20,138.70) scale(1.22,1)" >σ</text>
<text x="480.4" y="138.7">(A)</text>
<text x="500.2" y="141.0" font-size="17.5" stroke-width="0">×</text>
<text x="511.4" y="138.7">Br(A</text>
<text x="537.8" y="139.7" font-size="20" stroke-width="0">→</text>
<text x="557.9" y="138.7">tt)</text>
<text x="488.6" y="186.4">√s = 1.96 TeV</text>
<text x="488.6" y="209">CTEQ-6L1</text>
</g>
</svg>
</body></html>
